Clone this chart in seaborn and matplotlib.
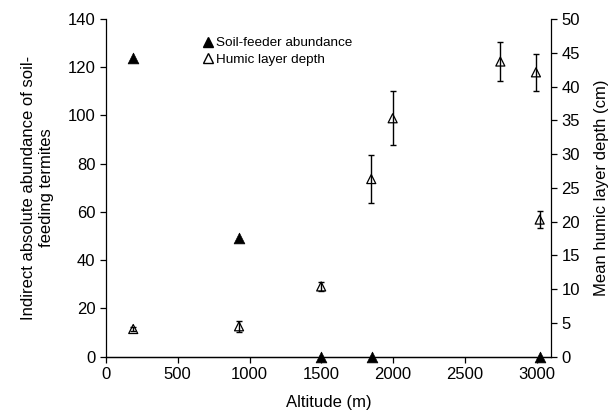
import numpy as np
import pandas as pd
import matplotlib
matplotlib.use("Agg")
import matplotlib.pyplot as plt
from matplotlib.lines import Line2D
import seaborn as sns

# Soil-feeder abundance (left axis)
feeder_alt = [190, 927, 1500, 1851, 3023]
feeder_abund = [123.7, 49.1, 0, 0, 0]

# Humic layer depth (right axis, cm)
humic_alt = [190, 927, 1499, 1848, 1997, 2747, 2995, 3021]
humic_depth = [4.1, 4.5, 10.4, 26.3, 35.3, 43.7, 42.1, 20.3]
humic_err = [0.3, 0.8, 0.7, 3.5, 4.0, 2.9, 2.7, 1.3]

sns.set_theme(style="ticks")
plt.rcParams['font.family'] = ['Liberation Sans', 'DejaVu Sans']
plt.rcParams.update({
    'axes.labelsize': 12,
    'xtick.labelsize': 12,
    'ytick.labelsize': 12,
    'axes.linewidth': 0.9,
    'xtick.major.width': 0.9,
    'ytick.major.width': 0.9,
    'xtick.major.size': 4,
    'ytick.major.size': 4,
    'axes.edgecolor': 'black',
    'axes.labelcolor': 'black',
    'text.color': 'black',
    'xtick.color': 'black',
    'ytick.color': 'black',
})

df_feed = pd.DataFrame({'alt': feeder_alt, 'abund': feeder_abund})
df_hum = pd.DataFrame({'alt': humic_alt, 'depth': humic_depth, 'err': humic_err})

fig = plt.figure(figsize=(6.16, 4.19), dpi=100)
ax = fig.add_axes([0.172, 0.1487, 0.7225, 0.806])
ax2 = ax.twinx()

# humic layer depth with error bars
sns.scatterplot(data=df_hum, x='alt', y='depth', ax=ax2, marker='^', s=42,
                facecolor='none', edgecolor='black', linewidth=0.9, zorder=3)
ax2.errorbar(df_hum['alt'], df_hum['depth'], yerr=df_hum['err'], fmt='none',
             ecolor='black', elinewidth=1.0, capsize=2.5, capthick=1.0, zorder=4)

# soil-feeder abundance
sns.scatterplot(data=df_feed, x='alt', y='abund', ax=ax, marker='^', s=60,
                color='black', edgecolor='black', linewidth=0.5, zorder=4, clip_on=False)

ax.set_zorder(ax2.get_zorder() + 1)
ax.patch.set_visible(False)

ax.set_xlim(0, 3100)
ax.set_ylim(0, 140)
ax2.set_ylim(0, 50)
ax.set_xticks(np.arange(0, 3001, 500))
ax.set_yticks(np.arange(0, 141, 20))
ax2.set_yticks(np.arange(0, 51, 5))

ax.set_xlabel('Altitude (m)', labelpad=9)
ax.set_ylabel('Indirect absolute abundance of soil-\nfeeding termites', labelpad=10)
ax2.set_ylabel('Mean humic layer depth (cm)', labelpad=10)

for a in (ax, ax2):
    a.spines['top'].set_visible(False)
    a.tick_params(direction='out')
ax.spines['right'].set_visible(False)
ax2.spines['left'].set_visible(False)

handles = [
    Line2D([], [], marker='^', linestyle='none', color='black', markersize=7.5,
           label='Soil-feeder abundance'),
    Line2D([], [], marker='^', linestyle='none', markerfacecolor='white',
           markeredgecolor='black', markersize=7.5, label='Humic layer depth'),
]
ax.legend(handles=handles, loc='upper left', bbox_to_anchor=(0.2, 0.975),
          frameon=False, fontsize=9.7, handlelength=0.6, handletextpad=0.25,
          labelspacing=0.3, borderpad=0.2)

fig.savefig('out.png', dpi=100)
